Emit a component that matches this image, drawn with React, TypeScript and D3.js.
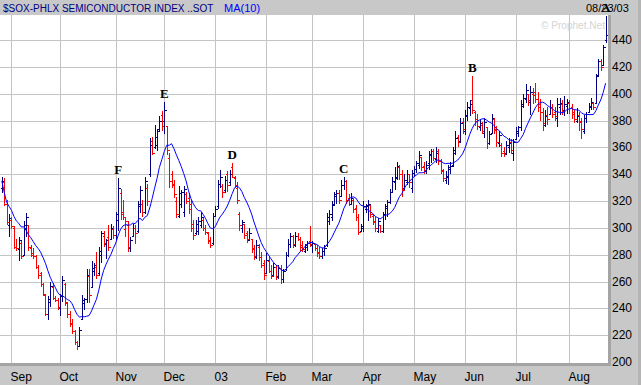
import React from 'react';
import * as d3 from 'd3';

// daily bars, 27 Aug 2002 .. 22 Aug 2003
const open = [
  330, 334, 318, 302, 306, 300, 286, 284, 289, 280, 300, 302, 285, 281, 279, 271, 266, 258, 250, 236,
  245, 256, 248, 246, 240, 250, 258, 244, 236, 229, 223, 215, 212, 232, 244, 247, 264, 256, 268, 271,
  266, 280, 294, 288, 293, 292, 299, 295, 306, 326, 312, 299, 302, 285, 294, 300, 298, 316, 318, 312,
  330, 340, 365, 360, 362, 374, 384, 380, 376, 352, 340, 333, 320, 309, 318, 312, 325, 322, 318, 303,
  296, 298, 302, 306, 300, 296, 291, 289, 309, 316, 333, 331, 328, 340, 334, 345, 337, 330, 310, 300,
  303, 296, 291, 292, 285, 278, 286, 278, 274, 266, 275, 268, 265, 271, 264, 270, 262, 269, 280, 288,
  294, 287, 294, 292, 287, 283, 286, 290, 287, 288, 285, 282, 279, 283, 287, 305, 308, 318, 324, 326,
  324, 332, 335, 322, 318, 321, 315, 308, 298, 300, 314, 316, 317, 309, 305, 298, 302, 298, 310, 315,
  319, 327, 334, 338, 345, 340, 330, 334, 340, 330, 341, 344, 347, 353, 346, 342, 348, 354, 357, 351,
  357, 350, 342, 336, 338, 344, 347, 356, 368, 365, 379, 372, 383, 389, 395, 386, 381, 375, 377, 371,
  375, 363, 371, 381, 373, 363, 362, 357, 356, 360, 364, 356, 366, 371, 375, 391, 396, 400, 394, 400,
  401, 396, 392, 386, 377, 384, 385, 390, 386, 382, 390, 392, 388, 391, 393, 390, 386, 380, 384, 379,
  372, 382, 386, 390, 393, 393, 414, 424, 421, 440,
];
const high = [
  338, 337, 321, 310, 308, 301, 292, 293, 290, 305, 311, 302, 287, 285, 280, 272, 267, 259, 250, 249,
  260, 259, 249, 248, 251, 264, 259, 245, 238, 232, 224, 216, 226, 250, 248, 269, 269, 275, 274, 282,
  286, 298, 298, 292, 302, 303, 301, 312, 337, 329, 321, 308, 305, 293, 303, 302, 320, 331, 321, 338,
  333, 367, 368, 377, 374, 383, 387, 394, 376, 356, 342, 336, 323, 331, 328, 331, 327, 326, 321, 306,
  306, 308, 312, 307, 302, 297, 293, 311, 316, 336, 343, 333, 339, 342, 343, 348, 339, 334, 312, 306,
  303, 298, 300, 292, 287, 291, 288, 282, 276, 281, 278, 272, 274, 272, 272, 272, 269, 282, 292, 296,
  295, 297, 296, 293, 290, 288, 290, 301, 290, 288, 287, 286, 285, 287, 311, 313, 320, 327, 328, 328,
  336, 338, 336, 325, 326, 322, 317, 310, 303, 320, 318, 321, 317, 310, 308, 307, 302, 312, 318, 321,
  329, 338, 345, 349, 347, 343, 340, 343, 340, 343, 346, 350, 357, 353, 349, 350, 357, 359, 359, 360,
  359, 351, 344, 342, 347, 349, 360, 372, 369, 382, 382, 388, 394, 395, 413, 387, 385, 381, 379, 382,
  375, 372, 385, 382, 376, 372, 363, 360, 365, 367, 366, 366, 375, 376, 395, 400, 407, 400, 406, 404,
  408, 401, 396, 389, 388, 390, 395, 392, 390, 397, 397, 395, 398, 396, 395, 392, 388, 389, 386, 382,
  384, 386, 393, 397, 394, 415, 426, 426, 436, 458,
];
const low = [
  326, 316, 302, 293, 299, 284, 283, 275, 277, 279, 293, 283, 278, 277, 269, 262, 256, 249, 234, 231,
  241, 246, 245, 239, 234, 245, 242, 233, 226, 221, 213, 209, 211, 231, 239, 244, 244, 256, 264, 262,
  264, 274, 286, 277, 283, 291, 292, 291, 298, 306, 306, 293, 282, 282, 293, 288, 296, 311, 308, 310,
  316, 338, 354, 359, 357, 372, 372, 370, 354, 330, 330, 322, 307, 307, 315, 308, 318, 310, 297, 291,
  295, 295, 300, 298, 295, 288, 285, 287, 308, 314, 330, 322, 326, 327, 331, 337, 330, 318, 298, 296,
  292, 289, 290, 281, 276, 277, 275, 270, 261, 266, 266, 262, 263, 261, 262, 258, 259, 268, 278, 285,
  285, 286, 290, 283, 282, 281, 283, 286, 281, 283, 278, 277, 277, 279, 286, 302, 305, 317, 318, 318,
  323, 328, 318, 316, 317, 311, 305, 295, 297, 297, 311, 305, 307, 302, 297, 296, 296, 296, 306, 308,
  318, 326, 328, 336, 336, 323, 328, 332, 330, 326, 338, 341, 344, 342, 340, 340, 343, 348, 350, 348,
  347, 340, 334, 333, 332, 340, 345, 354, 360, 363, 370, 369, 380, 383, 385, 376, 373, 372, 370, 367,
  359, 362, 371, 370, 360, 360, 353, 353, 354, 356, 355, 350, 366, 368, 372, 389, 393, 391, 384, 392,
  393, 386, 380, 372, 375, 377, 384, 382, 380, 375, 384, 384, 383, 385, 385, 381, 378, 378, 372, 366,
  370, 378, 386, 388, 388, 393, 413, 417, 421, 438,
];
const close = [
  335, 318, 304, 307, 301, 286, 285, 291, 279, 302, 308, 286, 280, 279, 271, 265, 258, 251, 236, 247,
  257, 248, 246, 241, 249, 261, 245, 236, 228, 223, 215, 212, 224, 246, 247, 265, 250, 270, 272, 265,
  283, 296, 289, 291, 286, 300, 295, 310, 330, 310, 308, 305, 286, 291, 300, 296, 318, 328, 312, 335,
  320, 362, 356, 368, 372, 380, 376, 388, 358, 335, 332, 325, 310, 326, 327, 329, 320, 314, 300, 295,
  303, 305, 308, 300, 297, 290, 287, 309, 314, 333, 338, 327, 336, 332, 340, 338, 332, 321, 302, 304,
  295, 292, 296, 284, 279, 287, 278, 272, 265, 276, 268, 264, 271, 263, 270, 262, 268, 280, 288, 294,
  288, 294, 292, 286, 284, 287, 289, 288, 289, 285, 281, 279, 283, 285, 308, 310, 317, 325, 326, 321,
  332, 335, 321, 318, 322, 314, 308, 297, 301, 316, 317, 318, 310, 304, 300, 305, 298, 310, 316, 319,
  327, 335, 337, 346, 340, 328, 336, 340, 334, 341, 344, 348, 354, 345, 342, 347, 355, 357, 352, 356,
  350, 343, 337, 339, 345, 346, 358, 367, 364, 378, 374, 384, 390, 392, 388, 380, 376, 378, 372, 379,
  363, 370, 382, 374, 364, 369, 356, 355, 362, 363, 358, 364, 372, 375, 392, 397, 403, 395, 401, 399,
  396, 390, 386, 378, 383, 381, 390, 385, 383, 392, 393, 387, 392, 394, 389, 385, 381, 383, 380, 374,
  382, 385, 391, 394, 390, 413, 424, 420, 435, 444,
];

const monthLabels = ['Sep', 'Oct', 'Nov', 'Dec', '03', 'Feb', 'Mar', 'Apr', 'May', 'Jun', 'Jul', 'Aug'];
const monthStarts = [4, 24, 47, 67, 88, 109, 128, 149, 170, 191, 212, 234];
const priceTicks = [200, 220, 240, 260, 280, 300, 320, 340, 360, 380, 400, 420, 440];
const peakLabels = ['F', 'E', 'D', 'C', 'B', 'A'];
const peakBars = [48, 67, 95, 141, 194, 249];

const W = 641;
const H = 385;
const plotRight = 608;
const plotTop = 15;
const plotBottom = 363;
const sans = '"Liberation Sans", Arial, sans-serif';

export default function App() {
  const x = d3.scaleLinear().domain([0, close.length - 1]).range([1.8, 605.6]);
  const y = d3.scaleLinear().domain([200, 440]).range([362, 40]);
  const px = (i: number) => Math.round(x(i)) + 0.5;
  const py = (v: number) => Math.round(y(v)) + 0.5;

  // 10-day moving average of the close
  const ma = close.map((_, i) => d3.mean(close.slice(Math.max(0, i - 9), i + 1)) as number);
  const maPath = d3.line<number>().x((_, i) => x(i)).y(d => y(d))(ma) || '';

  return (
    <svg width={W} height={H} style={{ position: 'fixed', left: 0, top: 0 }} fontFamily={sans}>
      <rect width={W} height={H} fill="#c8c8c8" />
      <rect x={0} y={plotTop} width={plotRight} height={plotBottom - plotTop} fill="#fff" />

      {/* grid */}
      <g stroke="#c4c4c4" strokeWidth={1} shapeRendering="crispEdges">
        {priceTicks.filter(t => t > 200).map(t => (
          <line key={t} x1={0} x2={plotRight} y1={py(t)} y2={py(t)} />
        ))}
        {monthStarts.map(i => (
          <line key={i} x1={px(i)} x2={px(i)} y1={plotTop} y2={plotBottom} />
        ))}
      </g>

      <text x={541} y={29} fontSize={11} fill="#d4d4d4" textLength={64} lengthAdjust="spacingAndGlyphs">
        © Prophet.Net
      </text>

      {/* OHLC bars */}
      <g strokeWidth={1} shapeRendering="crispEdges">
        {close.map((c, i) => {
          const col = i > 0 && c < close[i - 1] ? '#ff0000' : '#000080';
          const cx = px(i);
          return (
            <g key={i} stroke={col}>
              <line x1={cx} x2={cx} y1={y(high[i])} y2={y(low[i])} />
              <line x1={cx - 2} x2={cx} y1={py(open[i])} y2={py(open[i])} />
              <line x1={cx} x2={cx + 2} y1={py(c)} y2={py(c)} />
            </g>
          );
        })}
      </g>

      <path d={maPath} fill="none" stroke="#0000ff" strokeWidth={1} />

      {peakLabels.map((lab, k) => (
        <text key={lab} x={x(peakBars[k])} y={y(high[peakBars[k]]) - 4} textAnchor="middle"
          fontFamily='"Liberation Serif", "Times New Roman", serif' fontWeight="bold" fontSize={13} fill="#000">
          {lab}
        </text>
      ))}

      {/* frame */}
      <rect x={plotRight} y={plotTop} width={3} height={plotBottom - plotTop + 3} fill="#a4a4a4" />
      <rect x={0} y={plotBottom} width={plotRight + 3} height={3} fill="#a4a4a4" />
      <rect x={W - 3} y={0} width={3} height={H} fill="#b4b4b4" />

      {/* header */}
      <text x={3} y={11.5} fontSize={10} fill="#000080">
        $SOX-PHLX SEMICONDUCTOR INDEX ..SOT
      </text>
      <text x={224} y={11.5} fontSize={11} fill="#0000ff">MA(10)</text>
      <text x={586} y={11.5} fontSize={11} fill="#000">08/23/03</text>

      {/* right price axis */}
      {priceTicks.map(t => (
        <text key={t} x={612} y={y(t) + 4} fontSize={12} fill="#000">{t}</text>
      ))}

      {/* month axis */}
      {monthLabels.map((m, k) => (
        <text key={m} x={px(monthStarts[k]) - 1} y={381} fontSize={12} fill="#000">{m}</text>
      ))}
    </svg>
  );
}
